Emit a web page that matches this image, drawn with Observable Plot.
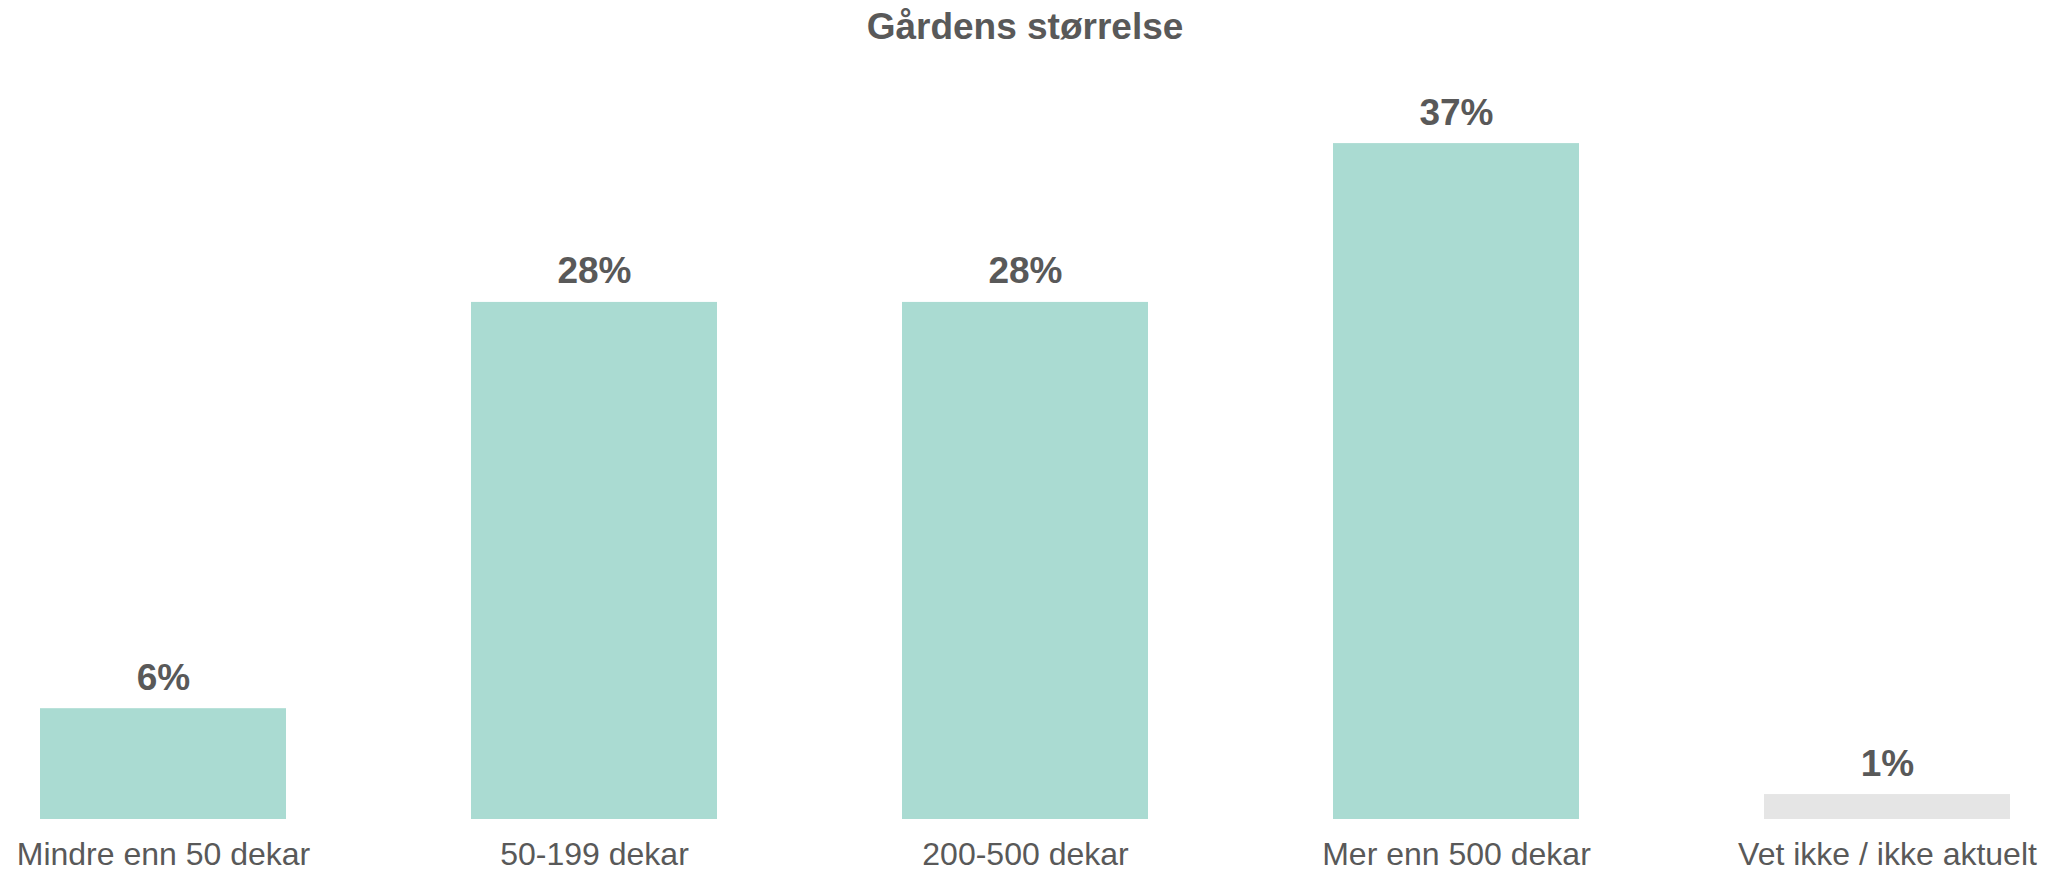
<!DOCTYPE html>
<html>
<head>
<meta charset="utf-8">
<script src="https://cdn.jsdelivr.net/npm/d3@7"></script>
<script src="https://cdn.jsdelivr.net/npm/@observablehq/plot@0.6"></script>
<style>
  html, body { margin: 0; padding: 0; background: #ffffff; overflow: hidden; }
  #title {
    box-sizing: border-box;
    width: 2061px;
    height: 60px;
    padding-top: 5px;
    padding-right: 11px;
    text-align: center;
    font-family: "Liberation Sans", Arial, sans-serif;
    font-weight: bold;
    font-size: 37px;
    line-height: 43px;
    color: #595959;
  }
</style>
</head>
<body>
<div id="title">Gårdens størrelse</div>
<div id="chart"></div>
<script>
const categories = ["Mindre enn 50 dekar", "50-199 dekar", "200-500 dekar", "Mer enn 500 dekar", "Vet ikke / ikke aktuelt"];
const values = [6.0, 28.0, 28.0, 36.6, 1.35];
const valueLabels = ["6%", "28%", "28%", "37%", "1%"];
const otherCategory = "Vet ikke / ikke aktuelt";

const data = categories.map((c, i) => ({category: c, value: values[i], label: valueLabels[i]}));

const teal = "#aadbd2";
const gray = "#e5e5e5";
const textColor = "#595959";

const chart = Plot.plot({
  width: 2061,
  height: 814,
  marginTop: 0,
  marginBottom: 55,
  marginLeft: 40,
  marginRight: 51,
  style: {fontFamily: "'Liberation Sans', Arial, sans-serif", color: textColor, background: "#ffffff"},
  x: {domain: categories, paddingInner: 0.43, paddingOuter: 0, axis: null},
  y: {domain: [0, 41.1], axis: null},
  marks: [
    Plot.barY(data, {x: "category", y: "value", fill: d => d.category === otherCategory ? gray : teal}),
    Plot.text(data, {x: "category", y: "value", text: "label", dy: -19, lineAnchor: "bottom",
      fontSize: 37, fontWeight: "bold", fill: textColor}),
    Plot.axisX({domain: categories, tickSize: 0, tickPadding: 23, fontSize: 32, fill: textColor, label: null})
  ]
});
document.getElementById("chart").appendChild(chart);
</script>
</body>
</html>
